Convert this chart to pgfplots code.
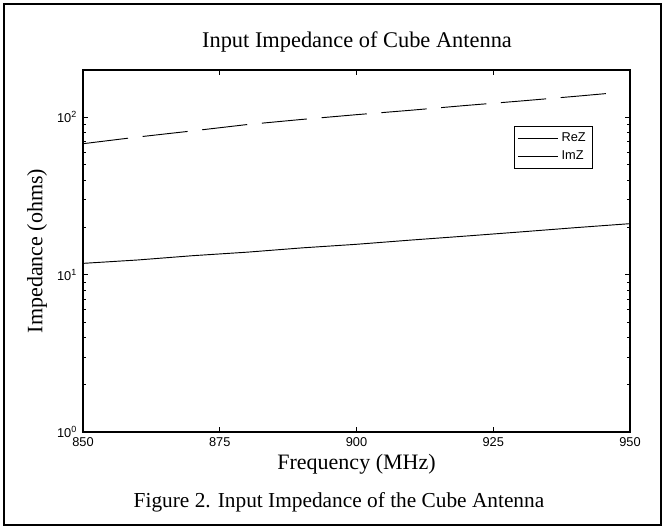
\documentclass[border=0pt]{standalone}
\usepackage{fontspec}
\setmainfont{Liberation Serif}
\setsansfont{Liberation Sans}
\usepackage{pgfplots}
\pgfplotsset{compat=1.18}

\pgfplotstableread{
f    z
850  68
860  75
870  82
880  90
890  97
900  104
910  111
920  119
930  127
940  136
947  143
}\rez
\pgfplotstableread{
f    z
850  11.8
860  12.4
870  13.2
880  13.9
890  14.8
900  15.6
910  16.6
920  17.6
930  18.7
940  19.9
950  21.1
}\imz

\newcommand{\tickfont}{\sffamily\fontsize{9.6}{11}\selectfont}
\newcommand{\labfont}{\rmfamily\fontsize{16.5}{19}\selectfont}

\begin{document}
\begin{tikzpicture}
% axis box: px 83..630 x 70..432 of a 665x529 canvas, 1px = 0.75pt
\begin{axis}[
    at={(0,0)}, anchor=south west,
    scale only axis,
    width=410.25pt, height=271.5pt,
    xmin=850, xmax=950,
    ymode=log, ymin=1, ymax=200,
    xtick={850,875,900,925,950},
    xticklabels={850,875,900,925,950},
    ytick={1,10,100},
    yticklabels={10\textsuperscript{0},10\textsuperscript{1},10\textsuperscript{2}},
    tick label style={font=\tickfont},
    tick align=inside,
    major tick length=4pt, minor tick length=2.5pt,
    every tick/.style={black, line width=0.5pt},
    axis line style={line width=0.8pt},
    xticklabel style={yshift=-1pt},
    yticklabel style={xshift=-1pt},
    legend image code/.code={\draw[solid, line width=0.6pt] (0pt,0pt) -- (30pt,0pt);},
    legend cell align=left,
    legend style={at={(0.932,0.845)}, anchor=north east, draw=black,
        line width=0.6pt, font=\tickfont, row sep=1pt,
        inner xsep=3pt, inner ysep=3pt},
]
\addplot[black, line width=0.7pt, dash pattern=on 34pt off 11pt] table[x=f, y=z] {\rez};
\addplot[black, line width=0.7pt] table[x=f, y=z] {\imz};
\legend{ReZ, ImZ}
\end{axis}
% canvas in px, origin at the image's top left corner
\begin{scope}[x=0.75pt, y=-0.75pt, shift={(-62.25pt,324pt)}]
\useasboundingbox (0,0) rectangle (665,529);
\draw[line width=1.5pt] (4,4) rectangle (661,525);
\node[anchor=base, font=\rmfamily\fontsize{16.8}{20}\selectfont] at (357,48) {Input Impedance of Cube Antenna};
\node[anchor=base, font=\labfont] at (356.5,469) {Frequency (MHz)};
\node[rotate=90, font=\labfont] at (37,251) {Impedance (ohms)};
\node[anchor=base, font=\rmfamily\fontsize{16}{19}\selectfont] at (339,507) {Figure 2. Input Impedance of the Cube Antenna};
\end{scope}
\end{tikzpicture}
\end{document}
